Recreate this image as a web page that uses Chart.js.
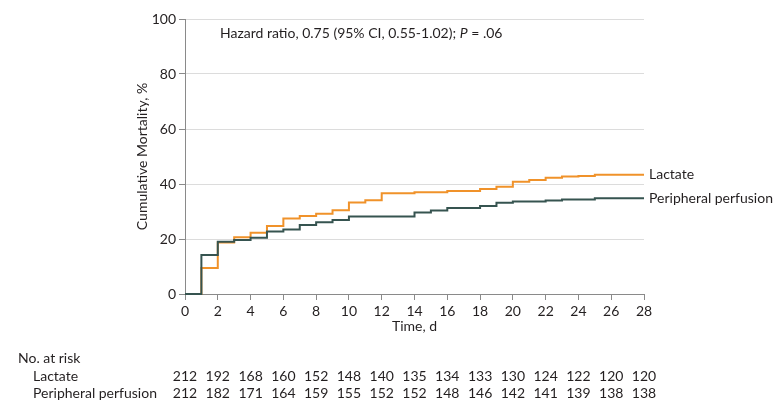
<!DOCTYPE html>
<html>
<head>
<meta charset="utf-8">
<script src="https://cdn.jsdelivr.net/npm/chart.js@4"></script>
<style>
    html, body { margin: 0; padding: 0; background: #fff; }
    #wrap { width: 780px; height: 411px; position: relative; }
</style>
</head>
<body>
<div id="wrap"><canvas id="km" width="780" height="411"></canvas></div>
<script>
// Dias e mortalidade acumulada (%) por grupo
const dias = [0, 1, 2, 3, 4, 5, 6, 7, 8, 9, 10, 11, 12, 13, 14, 15, 16, 17, 18, 19, 20, 21, 22, 23, 24, 25, 26, 27, 28];
const lactato = [0, 9.5, 18.7, 20.6, 22.3, 24.7, 27.5, 28.4, 29.2, 30.5, 33.3, 34.1, 36.6, 36.6, 37.0, 37.0, 37.5, 37.5, 38.2, 39.0, 40.8, 41.5, 42.3, 42.7, 42.9, 43.4, 43.4, 43.4, 43.4];
const perfusao = [0, 14.2, 19.0, 19.6, 20.5, 22.7, 23.5, 25.1, 26.1, 26.9, 28.2, 28.2, 28.2, 28.2, 29.6, 30.4, 31.3, 31.3, 32.0, 33.2, 33.6, 33.6, 34.0, 34.4, 34.4, 34.8, 34.8, 34.8, 34.8];

// Tabela "No. at risk"
const diasRisco = [0, 2, 4, 6, 8, 10, 12, 14, 16, 18, 20, 22, 24, 26, 28];
const riscoLactato = [212, 192, 168, 160, 152, 148, 140, 135, 134, 133, 130, 124, 122, 120, 120];
const riscoPerfusao = [212, 182, 171, 164, 159, 155, 152, 152, 148, 146, 142, 141, 139, 138, 138];

const nomes = ['Lactate', 'Peripheral perfusion'];
const cores = ['#f0922a', '#365450'];

const FONTE = 'Lato, "Noto Sans", sans-serif';
const TAM = 14;
const TEXTO = '#231f20';

const textosPlugin = {
    id: 'textos',
    afterDraw(chart) {
        const ctx = chart.ctx;
        const x = chart.scales.x;
        const y = chart.scales.y;
        ctx.save();
        ctx.fillStyle = TEXTO;
        ctx.textBaseline = 'middle';

        // Rótulos no fim das curvas
        ctx.font = TAM + 'px ' + FONTE;
        ctx.textAlign = 'left';
        const finais = [lactato[lactato.length - 1], perfusao[perfusao.length - 1]];
        finais.forEach((v, i) => {
            ctx.fillText(nomes[i], chart.chartArea.right + 5, y.getPixelForValue(v));
        });

        // Hazard ratio
        let hx = 220;
        const hy = 33;
        const partes = [
            ['Hazard ratio, 0.75 (95% CI, 0.55-1.02); ', 'normal'],
            ['P', 'italic'],
            [' = .06', 'normal']
        ];
        partes.forEach(p => {
            ctx.font = p[1] + ' ' + TAM + 'px ' + FONTE;
            ctx.fillText(p[0], hx, hy);
            hx += ctx.measureText(p[0]).width;
        });

        // Número em risco
        ctx.font = TAM + 'px ' + FONTE;
        ctx.fillText('No. at risk', 18, 358);
        ctx.fillText(nomes[0], 33, 376);
        ctx.fillText(nomes[1], 33, 393);
        ctx.textAlign = 'center';
        diasRisco.forEach((d, i) => {
            const px = x.getPixelForValue(d);
            ctx.fillText(String(riscoLactato[i]), px, 376);
            ctx.fillText(String(riscoPerfusao[i]), px, 393);
        });
        ctx.restore();
    }
};

const serie = (valores) => dias.map((d, i) => ({ x: d, y: valores[i] }));

new Chart(document.getElementById('km'), {
    type: 'line',
    data: {
        datasets: [
            {
                label: nomes[0],
                data: serie(lactato),
                borderColor: cores[0],
                borderWidth: 2,
                stepped: true,
                pointRadius: 0,
                fill: false,
                clip: 3,
                order: 1
            },
            {
                label: nomes[1],
                data: serie(perfusao),
                borderColor: cores[1],
                borderWidth: 2,
                stepped: true,
                pointRadius: 0,
                fill: false,
                clip: 3,
                order: 0
            }
        ]
    },
    options: {
        responsive: false,
        animation: false,
        layout: {
            padding: { left: 130, right: 136, top: 19, bottom: 72 }
        },
        plugins: {
            legend: { display: false },
            tooltip: { enabled: false }
        },
        scales: {
            x: {
                type: 'linear',
                min: 0,
                max: 28,
                ticks: {
                    stepSize: 2,
                    color: TEXTO,
                    font: { family: FONTE, size: TAM },
                    padding: 3,
                    maxRotation: 0
                },
                grid: {
                    drawOnChartArea: false,
                    tickLength: 6,
                    tickColor: '#8a8a8a'
                },
                border: { color: '#8a8a8a', width: 1 },
                title: {
                    display: true,
                    text: 'Time, d',
                    color: TEXTO,
                    font: { family: FONTE, size: TAM },
                    padding: { top: 4 }
                },
                afterFit(scale) { scale.height = 45; }
            },
            y: {
                min: 0,
                max: 100,
                ticks: {
                    stepSize: 20,
                    color: TEXTO,
                    font: { family: FONTE, size: TAM },
                    padding: 3
                },
                grid: {
                    color: ctx => ctx.tick && ctx.tick.value === 0 ? 'rgba(0,0,0,0)' : '#dcdcdc',
                    tickColor: '#8a8a8a',
                    tickLength: 6
                },
                border: { color: '#8a8a8a', width: 1 },
                title: {
                    display: true,
                    text: 'Cumulative Mortality, %',
                    color: TEXTO,
                    font: { family: FONTE, size: TAM }
                },
                afterFit(scale) { scale.width = 55; }
            }
        }
    },
    plugins: [textosPlugin]
});
</script>
</body>
</html>
